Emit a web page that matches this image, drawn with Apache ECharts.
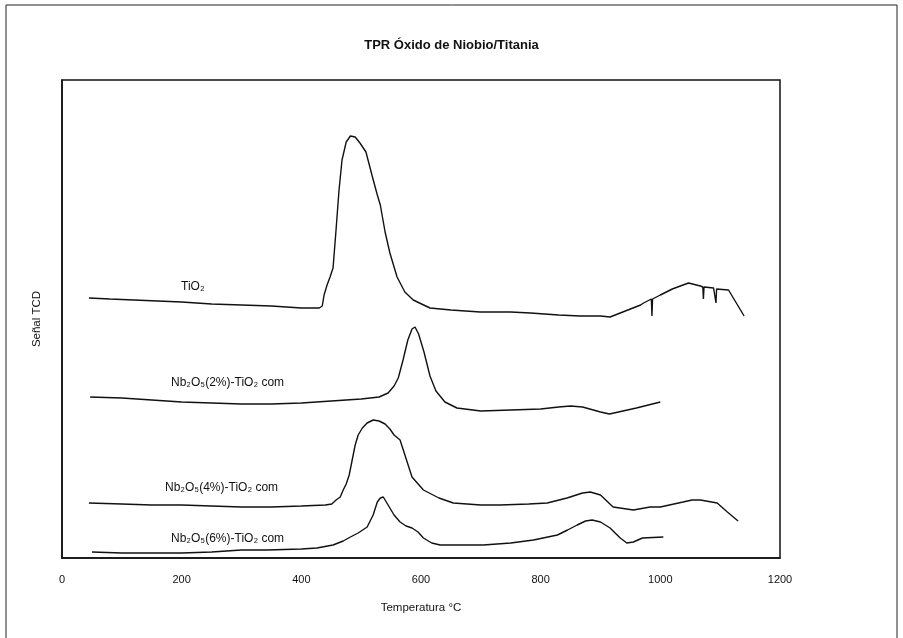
<!DOCTYPE html>
<html><head><meta charset="utf-8">
<script src="https://cdn.jsdelivr.net/npm/echarts@6/dist/echarts.min.js"></script>
<style>html,body{margin:0;padding:0;background:#fff}#c{width:903px;height:638px}</style>
</head><body><div id="c"></div>
<script>
// Signal values are in arbitrary TCD units (baseline offsets between traces as in the figure)
const xTicks = [0, 200, 400, 600, 800, 1000, 1200];

const tio2T = [45,80,120,160,200,250,300,350,400,430,435,438,443,448,453,458,463,468,475,482,490,498,508,518,527,532,540,548,560,573,587,615,650,699,750,783,830,866,900,916,933,967,972,985,986,987,1000,1020,1047,1067,1071,1072,1073,1089,1092,1093,1094,1114,1129,1140];
const tio2Y = [298,299,300,301,302,304,305,306,308,308,306,295,285,277,268,230,190,160,142,136,137,143,152,175,195,205,232,253,277,292,300,308,310,312,312,313,315,316,316,317,313,305,303,299,316,299,295,289,283,286,287,299,287,288,289,303,289,290,305,316];

const nb2T = [47,100,150,200,250,300,350,400,450,500,530,545,555,562,570,578,585,590,596,605,615,625,640,660,700,750,800,830,850,870,900,915,930,960,1000];
const nb2Y = [397,398,400,402,403,404,404,403,401,399,397,393,386,378,360,340,329,327,334,352,376,391,402,408,411,410,409,407,406,407,412,414,412,408,402];

const nb4T = [45,100,150,200,250,300,350,400,440,451,458,465,470,475,480,485,490,495,502,510,520,530,540,548,555,565,572,585,604,630,654,700,732,780,811,844,870,883,900,921,955,983,1000,1038,1053,1067,1095,1112,1130];
const nb4Y = [503,504,505,505,506,507,507,506,505,504,500,497,490,484,475,460,445,435,428,423,420,421,424,429,435,440,453,477,490,498,503,505,505,504,503,498,493,492,495,507,510,507,507,502,500,500,503,512,521];

const nb6T = [50,100,147,200,250,300,343,400,426,453,470,482,495,510,520,527,532,537,545,555,565,575,585,595,604,618,632,680,704,750,788,828,845,861,875,886,900,916,933,944,955,970,1005];
const nb6Y = [552,553,553,553,552,550,550,549,548,545,541,537,533,527,515,502,498,497,505,515,522,526,528,532,538,543,545,545,545,543,540,535,530,525,521,520,522,528,538,543,542,538,537];

const seriesNames = ['TiO₂', 'Nb₂O₅(2%)-TiO₂ com', 'Nb₂O₅(4%)-TiO₂ com', 'Nb₂O₅(6%)-TiO₂ com'];

const REF = 558;
function pairs(T, Y) { return T.map((t, i) => [t, REF - Y[i]]); }

const chart = echarts.init(document.getElementById('c'), null, {renderer: 'canvas'});
const FONT = '"Liberation Sans", Arial, sans-serif';
const mkLine = (name, T, Y) => ({
  name, type: 'line', data: pairs(T, Y), showSymbol: false, smooth: false,
  lineStyle: {color: '#111', width: 1.4}, animation: false
});

chart.setOption({
  backgroundColor: '#fff',
  animation: false,
  title: {
    text: 'TPR Óxido de Niobio/Titania', left: 'center', top: 34,
    textStyle: {fontFamily: FONT, fontSize: 13, fontWeight: 'bold', color: '#111'}
  },
  grid: {left: 62, right: 123, top: 80, bottom: 80, show: true, borderColor: '#111', borderWidth: 1.5, backgroundColor: 'transparent'},
  xAxis: {
    type: 'value', min: 0, max: 1200, interval: 200,
    name: 'Temperatura °C', nameLocation: 'middle', nameGap: 44,
    nameTextStyle: {fontFamily: FONT, fontSize: 11.5, color: '#111'},
    axisLine: {lineStyle: {color: '#111', width: 1.5}},
    axisTick: {show: false},
    splitLine: {show: false},
    axisLabel: {fontFamily: FONT, fontSize: 11, color: '#111', margin: 16,
      formatter: v => xTicks.includes(v) ? String(v) : ''}
  },
  yAxis: {
    type: 'value', min: 0, max: 478,
    name: 'Señal TCD', nameLocation: 'middle', nameGap: 19, nameRotate: 90,
    nameTextStyle: {fontFamily: FONT, fontSize: 11.5, color: '#111'},
    axisLine: {show: true, lineStyle: {color: '#111', width: 1.5}},
    axisTick: {show: false}, axisLabel: {show: false}, splitLine: {show: false}
  },
  series: [
    mkLine(seriesNames[0], tio2T, tio2Y),
    mkLine(seriesNames[1], nb2T, nb2Y),
    mkLine(seriesNames[2], nb4T, nb4Y),
    mkLine(seriesNames[3], nb6T, nb6Y)
  ],
  graphic: [
    {type: 'rect', shape: {x: 6, y: 5, width: 891, height: 660}, style: {fill: 'none', stroke: '#222', lineWidth: 1}, silent: true},
    {type: 'text', left: 181, top: 281, style: {text: seriesNames[0], font: '12px ' + FONT, fill: '#111'}},
    {type: 'text', left: 171, top: 377, style: {text: seriesNames[1], font: '12px ' + FONT, fill: '#111'}},
    {type: 'text', left: 165, top: 482, style: {text: seriesNames[2], font: '12px ' + FONT, fill: '#111'}},
    {type: 'text', left: 171, top: 533, style: {text: seriesNames[3], font: '12px ' + FONT, fill: '#111'}}
  ]
});
</script></body></html>
